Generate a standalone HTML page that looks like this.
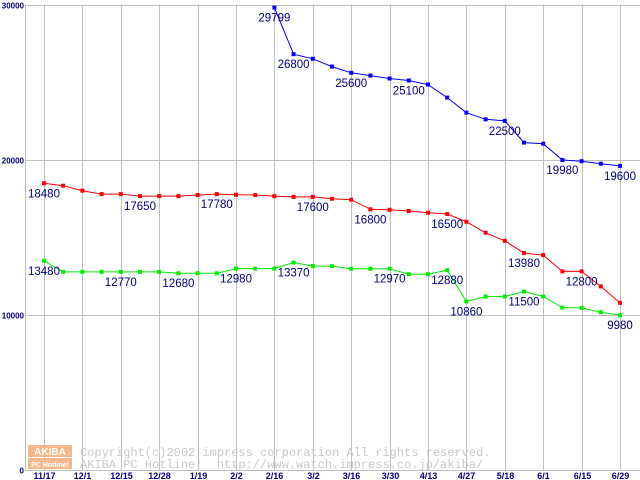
<!DOCTYPE html>
<html><head><meta charset="utf-8"><style>
body{margin:0;background:#fff}
svg{display:block}
text{font-family:"Liberation Sans",sans-serif}
text.mono{font-family:"Liberation Mono",monospace}
</style></head><body>
<svg id="chart" width="640" height="480" viewBox="0 0 640 480" xmlns="http://www.w3.org/2000/svg">
<g id="grid"></g>
<g id="wm">
<rect x="28" y="445" width="44" height="12" fill="#f6b88a"/>
<rect x="28" y="458" width="44" height="11" fill="#f6b88a"/>
<text x="50" y="455" font-size="10" fill="#fff" text-anchor="middle" font-weight="bold">AKIBA</text>
<text x="50" y="467" font-size="7" fill="#fff" text-anchor="middle" font-weight="bold">PC Hotline!</text>
<text class="mono" x="80" y="456" font-size="12" fill="#c8c8c8">Copyright(c)2002 impress corporation All rights reserved.</text>
<text class="mono" x="80" y="468" font-size="12" fill="#c8c8c8" xml:space="preserve">AKIBA PC Hotline!  http://www.watch.impress.co.jp/akiba/</text>
</g>
<g id="series"></g>
</svg>
<script>
const xLabels=["11/17","12/1","12/15","12/28","1/19","2/2","2/16","3/2","3/16","3/30","4/13","4/27","5/18","6/1","6/15","6/29"];
const yTicks=[0,10000,20000,30000];
const redValues=[18480,18320,18000,17780,17780,17650,17650,17650,17720,17780,17740,17720,17650,17600,17600,17480,17420,16800,16770,16690,16580,16500,16000,15290,14770,13980,13850,12800,12800,11830,10770];
const greenValues=[13480,12770,12770,12770,12770,12770,12770,12680,12680,12680,12980,12980,12980,13370,13140,13140,12970,12970,12970,12620,12620,12880,10860,11180,11180,11500,11180,10470,10450,10170,9980];
const blueValues=[null,null,null,null,null,null,null,null,null,null,null,null,29799,26800,26500,26000,25600,25420,25230,25100,24840,24000,23030,22600,22500,21100,21030,19980,19900,19740,19600];
const redLabels=[0,5,9,14,17,21,25,28];
const greenLabels=[0,4,7,10,13,18,21,22,25,30];
const blueLabels=[12,13,16,19,24,27,30];
const NS="http://www.w3.org/2000/svg";
function X(i){return 44+19.2*i;}
function Y(v){return 470-v*(465.5/30000);}
function mk(tag,attrs,parent){const e=document.createElementNS(NS,tag);for(const k in attrs)e.setAttribute(k,attrs[k]);parent.appendChild(e);return e;}
const grid=document.getElementById('grid');
let ax=mk('line',{x1:25.5,x2:25.5,y1:4.5,y2:470,stroke:'#c0c0c0'},grid);


yTicks.forEach(v=>{
 const y=Math.round(Y(v))+0.5;
 const l=mk('line',{x1:25,x2:640,y1:y,y2:y,stroke:'#c0c0c0'},grid);
 
 
 const t=mk('text',{x:24,y:y+3,'font-size':8,'font-weight':'bold',fill:'#000080','text-anchor':'end'},grid);
 t.textContent=v;
 
 
});
xLabels.forEach((s,i)=>{
 const x=Math.round(X(i*2))+0.5;
 const l=mk('line',{x1:x,x2:x,y1:4.5,y2:470,stroke:'#c0c0c0'},grid);
 
 
 const t=mk('text',{x:x,y:479,'font-size':9,'font-weight':'bold',fill:'#000080','text-anchor':'middle'},grid);
 t.textContent=s;
 
 
});
const sg=document.getElementById('series');
function drawSeries(vals,color,labels,name){
 const g=mk('g',{},sg);
 
 
 const pts=[];vals.forEach((v,i)=>{if(v!=null)pts.push(X(i).toFixed(1)+','+Y(v).toFixed(1));});
 const pl=mk('polyline',{points:pts.join(' '),fill:'none',stroke:color,'stroke-width':1},g);
 
 
 vals.forEach((v,i)=>{if(v==null)return;
  const r=mk('rect',{x:X(i)-2,y:Y(v)-2,width:4,height:4,fill:color},g);
  
  
 });
 labels.forEach(i=>{
  const t=mk('text',{x:X(i),y:Y(vals[i])+14,'font-size':11.5,fill:'#000080','text-anchor':'middle'},g);
  t.textContent=vals[i];
  
  
 });
}
drawSeries(blueValues,'#0000ff',blueLabels,'blue');
drawSeries(redValues,'#ff0000',redLabels,'red');
drawSeries(greenValues,'#00ee00',greenLabels,'green');
</script>
</body></html>
